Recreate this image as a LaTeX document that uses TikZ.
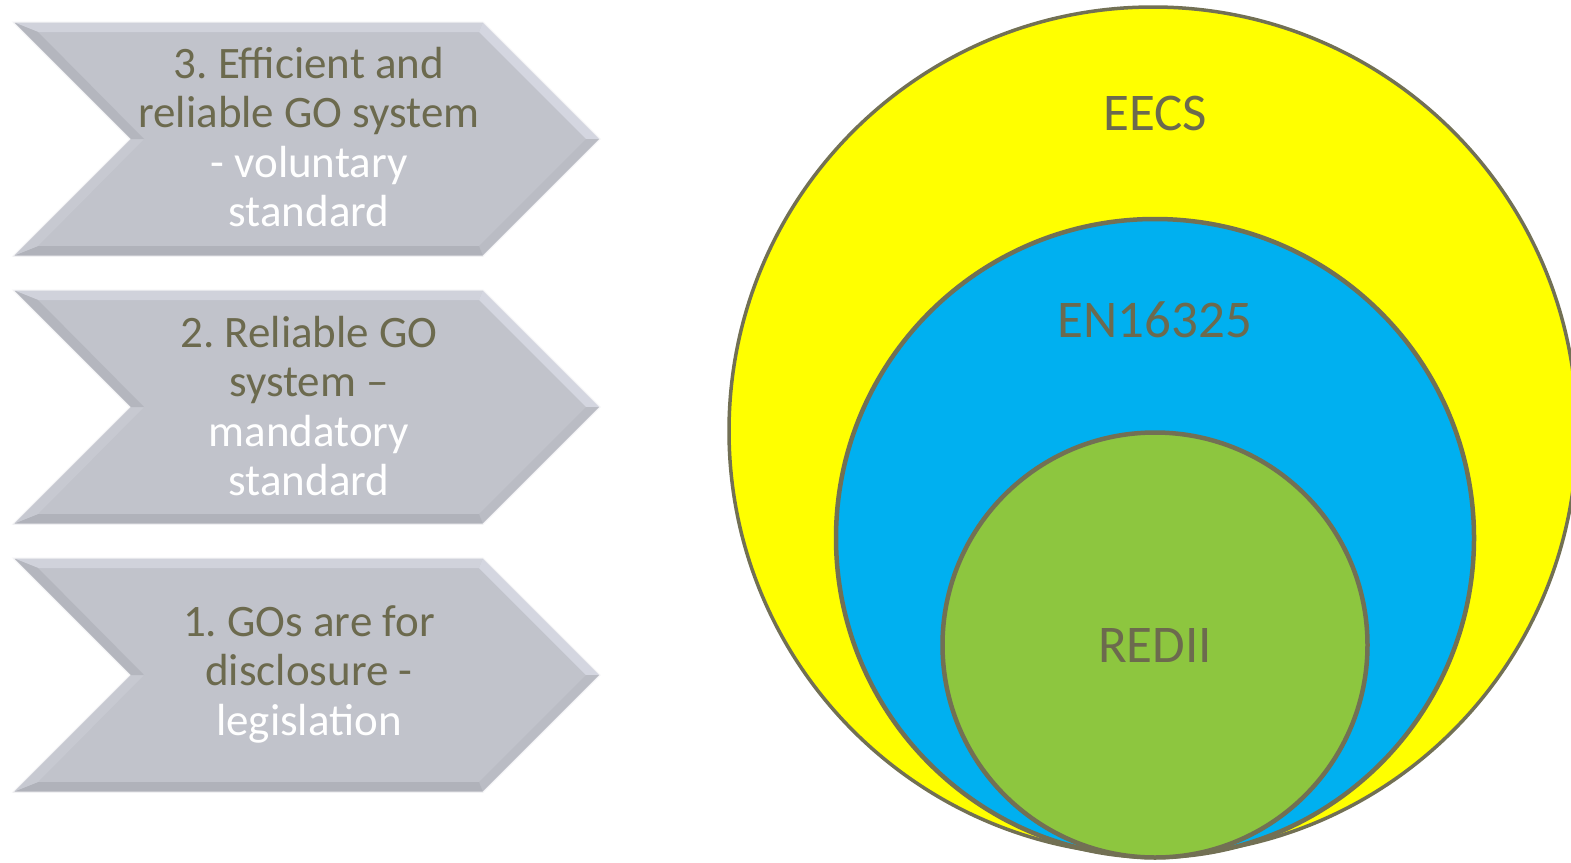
\documentclass[tikz,border=0pt]{standalone}
\usepackage{fontspec}
\setmainfont{Carlito}
\frenchspacing
\definecolor{olive}{RGB}{108,106,78}
\definecolor{ring}{RGB}{114,112,84}
\definecolor{face}{RGB}{193,195,203}
\definecolor{btop}{RGB}{208,210,219}
\definecolor{bru}{RGB}{212,214,224}
\definecolor{brl}{RGB}{186,188,196}
\definecolor{bbot}{RGB}{176,178,186}
\definecolor{bll}{RGB}{199,201,209}
\definecolor{bul}{RGB}{180,182,190}
\definecolor{eyellow}{RGB}{255,255,0}
\definecolor{eblue}{RGB}{0,176,240}
\definecolor{egreen}{RGB}{141,198,63}
\tikzset{
  chevtext/.style={align=center, font=\fontsize{45}{49.5}\selectfont, text=olive, inner sep=0},
  ringlabel/.style={font=\fontsize{53}{60}\selectfont, text=olive, inner sep=0},
  ringcircle/.style={circle, draw=ring, line width=4.5pt, inner sep=0},
}
\newcommand{\mychevron}[1]{%
  \begin{scope}[yshift=#1]
    \fill[face] (13,0) -- (483,0) -- (600,117) -- (483,234) -- (13,234) -- (130,117) -- cycle;
    \fill[btop] (13,0) -- (483,0) -- (479,10) -- (38,10) -- cycle;
    \fill[bru] (483,0) -- (600,117) -- (586,117) -- (479,10) -- cycle;
    \fill[brl] (600,117) -- (483,234) -- (479,224) -- (586,117) -- cycle;
    \fill[bbot] (483,234) -- (13,234) -- (38,224) -- (479,224) -- cycle;
    \fill[bll] (13,234) -- (130,117) -- (144,117) -- (38,224) -- cycle;
    \fill[bul] (130,117) -- (13,0) -- (38,10) -- (144,117) -- cycle;
    \draw[white!80!face, line width=1pt] (13,0) -- (483,0) -- (600,117) -- (483,234) -- (13,234) -- (130,117) -- cycle;
  \end{scope}}
\begin{document}
\begin{tikzpicture}[x=1pt,y=-1pt]
\useasboundingbox (0,0) rectangle (1571,862);
\fill[white] (0,0) rectangle (1571,862);
% chevrons
\mychevron{-22}
\mychevron{-290}
\mychevron{-558}
\node[chevtext] (c3) at (309,137) {3. Efficient and\\reliable GO system\\\textcolor{white}{- voluntary}\\\textcolor{white}{standard}};
\node[chevtext] (c2) at (309,406) {2. Reliable GO\\system --\\\textcolor{white}{mandatory}\\\textcolor{white}{standard}};
\node[chevtext] (c1) at (309,674) {1. GOs are for\\disclosure -\\\textcolor{white}{legislation}};
% circles
\node[ringcircle, fill=eyellow, line width=3.5pt, minimum size=848] (eecs) at (1153,431) {};
\node[ringcircle, fill=eblue, minimum size=638] (en) at (1155,538) {};
\node[ringcircle, fill=egreen, minimum size=425] (red) at (1155,645) {};
\node[ringlabel] (leecs) at (1155,113) {EECS};
\node[ringlabel] (len) at (1155,320) {EN16325};
\node[ringlabel] (lred) at (1155,645) {REDII};
\end{tikzpicture}
\end{document}
